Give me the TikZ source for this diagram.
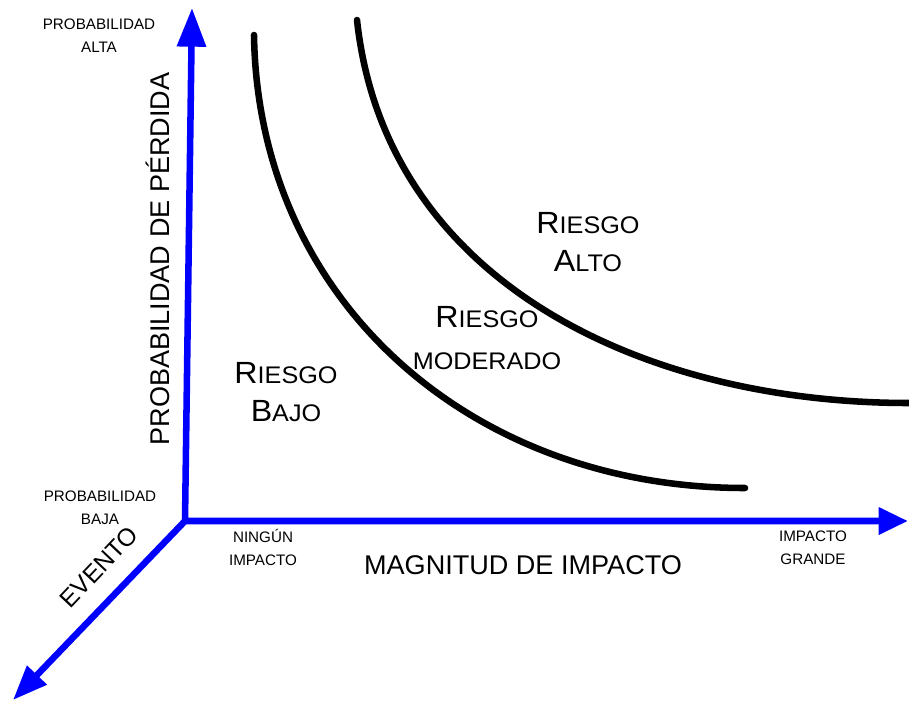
\documentclass[tikz,border=0pt]{standalone}
\usepackage{fontspec}
\setmainfont{Liberation Sans}
\newfontfamily\riskfont[FakeStretch=1.05]{Liberation Sans}
\usetikzlibrary{arrows.meta}
\newcommand{\smc}[1]{{\fontsize{18}{28}\selectfont #1}}

\begin{document}
\begin{tikzpicture}[x=0.75pt,y=-0.75pt,
    axis/.style={draw={rgb,255:red,0;green,0;blue,255},line width=4.9pt},
    curve/.style={draw=black,line width=4.9pt,line cap=round},
    small/.style={font=\fontsize{11.4}{17.25}\selectfont,align=center,inner sep=0pt},
    axislabel/.style={font=\fontsize{20.3}{24}\selectfont,inner sep=0pt},
    risk/.style={font=\riskfont\fontsize{23}{28}\selectfont,align=center,inner sep=0pt}]

\useasboundingbox (0,0) rectangle (909,700);

\coordinate (O)    at (185,521);
\coordinate (ytip) at (192,8);
\coordinate (xtip) at (908,521);
\coordinate (ztip) at (13,700);

% ejes
\draw[axis,{Triangle[length=29pt,width=21pt]}-{Triangle[length=22pt,width=19.5pt]}]
    (ytip) -- (O) -- (xtip);
\draw[axis,-{Triangle[length=26pt,width=19.5pt]}] (O) -- (ztip);

% curvas de riesgo
\draw[curve] (254,35) .. controls (258,300) and (470,488) .. (745,488);
\draw[curve] (357,20) .. controls (385,280) and (640,403) .. (909,403);

\node[small] (palta) at (99,36)  {PROBABILIDAD\\ALTA};
\node[small] (pbaja) at (100,508) {PROBABILIDAD\\BAJA};
\node[small] (ning)  at (263,547) {NINGÚN\\IMPACTO};
\node[small] (grand) at (813,548) {IMPACTO\\GRANDE};

\node[axislabel] (mag)  at (523,565) {MAGNITUD DE IMPACTO};
\node[axislabel,rotate=90] (prob) at (158,259) {PROBABILIDAD DE PÉRDIDA};
\node[axislabel,rotate=46.5,font=\fontsize{18.5}{22}\selectfont] (ev) at (99,567) {EVENTO};

\node[risk] (ralto) at (588,242) {R\smc{IESGO}\\A\smc{LTO}};
\node[risk] (rmod)  at (487,338) {R\smc{IESGO}\\[3pt]\smc{MODERADO}};
\node[risk] (rbajo) at (286,392) {R\smc{IESGO}\\B\smc{AJO}};
\end{tikzpicture}
\end{document}
